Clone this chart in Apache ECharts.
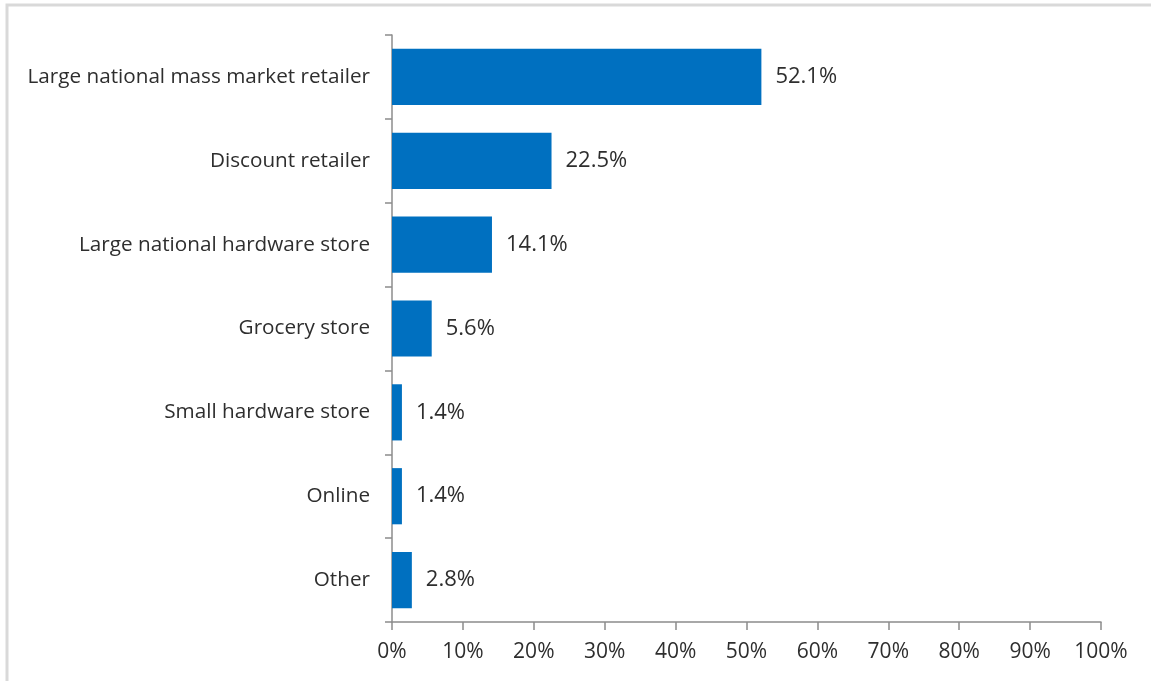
<!DOCTYPE html>
<html>
<head>
<meta charset="utf-8">
<script src="https://cdn.jsdelivr.net/npm/echarts@6/dist/echarts.min.js"></script>
<style>
  html, body { margin: 0; padding: 0; background: #fff; }
  #chart { width: 1151px; height: 681px; }
</style>
</head>
<body>
<div id="chart"></div>
<script>
// Where shoppers bought the product, share of respondents
const categories = [
  'Large national mass market retailer',
  'Discount retailer',
  'Large national hardware store',
  'Grocery store',
  'Small hardware store',
  'Online',
  'Other'
];
const shares = [52.1, 22.5, 14.1, 5.6, 1.4, 1.4, 2.8];

const FONT = '"Open Sans", sans-serif';
const TEXT = '#2e2e2e';
const AXIS = '#8c8c8c';

const chart = echarts.init(document.getElementById('chart'), null, { renderer: 'canvas' });
chart.setOption({
  animation: false,
  backgroundColor: '#ffffff',
  graphic: [{
    type: 'rect',
    shape: { x: 7, y: 5, width: 1200, height: 720 },
    style: { fill: 'none', stroke: '#d9d9d9', lineWidth: 3 },
    silent: true
  }],
  grid: { left: 392, right: 50, top: 35, bottom: 59, containLabel: false },
  xAxis: {
    type: 'value',
    min: 0,
    max: 100,
    interval: 10,
    axisLine: { show: true, lineStyle: { color: AXIS, width: 1.5 } },
    axisTick: { show: true, length: 8, lineStyle: { color: AXIS, width: 1.5 } },
    splitLine: { show: false },
    axisLabel: {
      formatter: '{value}%',
      color: TEXT,
      fontFamily: FONT,
      fontSize: 21,
      margin: 20
    }
  },
  yAxis: {
    type: 'category',
    data: categories,
    inverse: true,
    axisLine: { show: true, lineStyle: { color: AXIS, width: 1.5 } },
    axisTick: { show: true, length: 7, lineStyle: { color: AXIS, width: 1.5 } },
    axisLabel: {
      color: TEXT,
      fontFamily: FONT,
      fontSize: 20.7,
      margin: 22
    }
  },
  series: [{
    type: 'bar',
    data: shares,
    barCategoryGap: '33%',
    itemStyle: { color: '#0070C0' },
    label: {
      show: true,
      position: 'right',
      distance: 14,
      formatter: p => p.value.toFixed(1) + '%',
      color: TEXT,
      fontFamily: FONT,
      fontSize: 22
    }
  }]
});
</script>
</body>
</html>
